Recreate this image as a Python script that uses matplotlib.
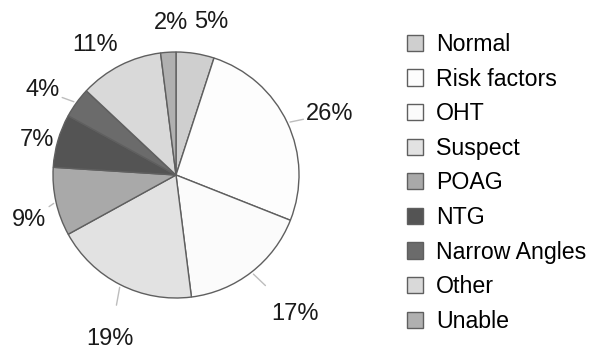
import matplotlib
matplotlib.use("Agg")
import matplotlib.pyplot as plt
import numpy as np

plt.rcParams["font.family"] = ["Liberation Sans", "DejaVu Sans"]
plt.rcParams["font.size"] = 17

# data
categories = ["Normal", "Risk factors", "OHT", "Suspect", "POAG", "NTG",
              "Narrow Angles", "Other", "Unable"]
percents = [5, 26, 17, 19, 9, 7, 4, 11, 2]
pct_labels = ["5%", "26%", "17%", "19%", "9%", "7%", "4%", "11%", "2%"]

# styling
colors = ["#cfcfcf", "#fdfdfd", "#fbfbfb", "#e2e2e2", "#a9a9a9", "#545454",
          "#6b6b6b", "#d9d9d9", "#b0b0b0"]
label_dist = [1.30, 1.34, 1.45, 1.42, 1.26, 1.19, 1.32, 1.28, 1.27]
label_nudge = [-3, -2, 3, 4, 3, 1, 3, 5, -1]
has_leader = [False, True, True, True, True, False, True, False, False]

fig = plt.figure(figsize=(5.97, 3.5), dpi=100)
ax = fig.add_axes([1 / 597, 0, 350 / 597, 1])

wedges, _ = ax.pie(percents, colors=colors, startangle=90, counterclock=False,
                   radius=1, wedgeprops=dict(edgecolor="#5f5f5f", linewidth=1.0))

lim = 175 / 123
ax.set_xlim(-lim, lim)
ax.set_ylim(-lim, lim)
ax.set_aspect("equal")
ax.axis("off")

for w, lab, d, nud, lead in zip(wedges, pct_labels, label_dist, label_nudge, has_leader):
    mid = np.deg2rad((w.theta1 + w.theta2) / 2)
    ang = mid + np.deg2rad(nud)
    tx, ty = d * np.cos(ang) + 0.02, d * np.sin(ang) - 0.03
    if lead:
        ax.annotate(lab, xy=(1.0 * np.cos(mid), 1.0 * np.sin(mid)), xytext=(tx, ty),
                    ha="center", va="center", fontsize=17, color="#1a1a1a",
                    annotation_clip=False,
                    arrowprops=dict(arrowstyle="-", color="#bdbdbd", lw=1.0,
                                    shrinkA=15, shrinkB=2))
    else:
        ax.text(tx, ty, lab, ha="center", va="center", fontsize=17, color="#1a1a1a",
                clip_on=False)

fig.legend(wedges, categories, loc="upper left", bbox_to_anchor=(407 / 597, 1 - 33 / 350),
           frameon=False, fontsize=16.7, handlelength=0.7, handleheight=0.7,
           handletextpad=0.55, labelspacing=0.5, borderaxespad=0, borderpad=0)

fig.savefig("out.png", dpi=100)
